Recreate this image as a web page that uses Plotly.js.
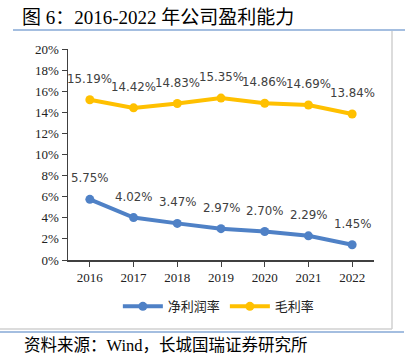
<!DOCTYPE html>
<html><head><meta charset="utf-8">
<script src="https://cdn.plot.ly/plotly-3.0.1.min.js"></script>
<style>html,body{margin:0;padding:0;background:#fff}#c{width:409px;height:357px}</style>
</head><body><div id="c"></div>
<script>
const years = ['2016','2017','2018','2019','2020','2021','2022'];
const netMargin = [5.75, 4.02, 3.47, 2.97, 2.70, 2.29, 1.45];
const grossMargin = [15.19, 14.42, 14.83, 15.35, 14.86, 14.69, 13.84];
const seriesNames = ['净利润率', '毛利率'];
const yTicks = [0,2,4,6,8,10,12,14,16,18,20];

const lblFont = {family: '"DejaVu Sans", "Noto Sans CJK SC"', size: 11.8, color: '#404040'};
function tr(vals, name, color){
  return {x: years, y: vals, name: name, type: 'scatter', mode: 'lines+markers',
    line: {color: color, width: 4}, marker: {color: color, size: 9}, cliponaxis: false};
}
function labels(vals){
  return vals.map((v, i) => ({x: i, y: v, xref: 'x', yref: 'y', text: v.toFixed(2) + '%',
    showarrow: false, yshift: 21, font: lblFont}));
}
const data = [tr(netMargin, seriesNames[0], '#4F81C6'), tr(grossMargin, seriesNames[1], '#FFC000')];
const serif = '"Liberation Serif", "Times New Roman", serif';
const mixed = '"Liberation Serif", "Noto Sans CJK SC", serif';
const layout = {
  width: 409, height: 357, margin: {l: 68, r: 35, t: 49, b: 97},
  paper_bgcolor: '#fff', plot_bgcolor: '#fff', showlegend: true,
  xaxis: {type: 'category', range: [-0.5, 6.5], showgrid: false, showline: true, linecolor: '#404040', linewidth: 1.5,
    ticks: 'outside', ticklen: 5, tickcolor: '#404040', tickfont: {family: serif, size: 13, color: '#222'}},
  yaxis: {range: [0, 20], tickvals: yTicks, ticktext: yTicks.map(v => v + '%'), showgrid: false, zeroline: false,
    showline: true, linecolor: '#404040', linewidth: 1.5, ticks: 'outside', ticklen: 5, tickcolor: '#404040',
    tickfont: {family: serif, size: 13, color: '#222'}},
  legend: {orientation: 'h', x: 0.493, xanchor: 'center', y: -0.22, yanchor: 'middle',
    font: {family: '"Noto Sans CJK SC"', size: 13, color: '#222'}, itemwidth: 40},
  title: {text: '图 6：2016-2022 年公司盈利能力', x: 22/409, xanchor: 'left', y: 1 - 17/357, yanchor: 'middle',
    font: {family: mixed, size: 19, color: '#000'}},
  annotations: labels(netMargin).concat(labels(grossMargin)).concat([{text: '资料来源：Wind，长城国瑞证券研究所', xref: 'paper', yref: 'paper', x: -46/306, xanchor: 'left',
    y: -(345-260)/211, yanchor: 'middle', showarrow: false,
    font: {family: mixed, size: 16.5, color: '#000'}}]),
  shapes: [
    {type: 'line', xref: 'paper', yref: 'paper', x0: -55/306, x1: 337/306, y0: 230/211, y1: 230/211, line: {color: '#A4BEE0', width: 2}},
    {type: 'line', xref: 'paper', yref: 'paper', x0: -68/306, x1: 336/306, y0: -(332-260)/211, y1: -(332-260)/211, line: {color: '#A4BEE0', width: 2}},
    {type: 'line', xref: 'paper', yref: 'paper', x0: 324/306, x1: 324/306, y0: 229/211, y1: -(329-260)/211, line: {color: '#D0D0D0', width: 1.5}},
    {type: 'line', xref: 'paper', yref: 'paper', x0: -68/306, x1: 324/306, y0: -(329-260)/211, y1: -(329-260)/211, line: {color: '#D0D0D0', width: 1.5}}
  ]
};
Plotly.newPlot('c', data, layout, {displayModeBar: false, staticPlot: true});
</script></body></html>
